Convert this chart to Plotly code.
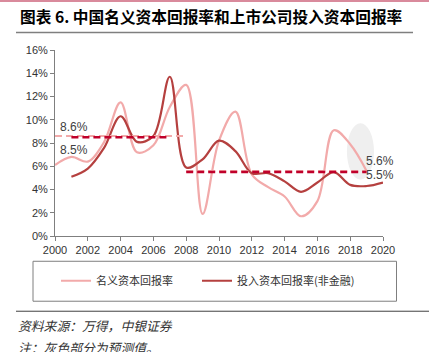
import plotly.graph_objects as go

# ---- data ----
nominal_years = list(range(2000, 2020))
nominal_roc = [6.1, 6.8, 6.4, 8.1, 11.5, 7.2, 7.8, 11.1, 13.0, 1.9,
               8.2, 10.7, 5.3, 4.2, 3.4, 1.7, 3.0, 9.1, 7.9, 5.6]
roic_years = list(range(2001, 2021))
roic = [5.1, 5.8, 7.6, 10.3, 8.1, 8.6, 13.7, 5.9, 6.6, 8.2,
        7.3, 5.4, 5.4, 4.7, 3.8, 4.6, 5.5, 4.4, 4.3, 4.6]

nominal_avg_x1 = [2000, 2008]
nominal_avg_y1 = [8.6, 8.6]
roic_avg_x1 = [2001, 2007]
roic_avg_y1 = [8.5, 8.5]
nominal_avg_x2 = [2008, 2019]
nominal_avg_y2 = [5.6, 5.6]
roic_avg_x2 = [2008, 2019]
roic_avg_y2 = [5.5, 5.5]

y_ticks = [0, 2, 4, 6, 8, 10, 12, 14, 16]
y_tick_labels = [f"{v}%" for v in y_ticks]
x_ticks = list(range(2000, 2021, 2))

title_text = "图表 6. 中国名义资本回报率和上市公司投入资本回报率"
name_nominal = "名义资本回报率"
name_roic = "投入资本回报率(非金融)"
source_text = "资料来源：万得，中银证券"
note_text = "注：灰色部分为预测值。"

PINK = "#F2AAAA"
DARK = "#B5403F"
DASH_DARK = "#C0002A"
NUM_FONT = "Liberation Sans Narrow, Arial Narrow, Liberation Sans, Arial, sans-serif"
CJK_FONT = "Noto Sans CJK SC, sans-serif"


def px_x(p):
    return (p - 55) / 328.0


def px_y(p):
    return (235.7 - p) / 186.2


fig = go.Figure()

fig.add_trace(go.Scatter(x=nominal_years, y=nominal_roc, mode="lines", name=name_nominal,
                         legend="legend",
                         line=dict(color=PINK, width=2.2, shape="spline", smoothing=1.0)))
fig.add_trace(go.Scatter(x=roic_years, y=roic, mode="lines", name=name_roic,
                         legend="legend2",
                         line=dict(color=DARK, width=2.2, shape="spline", smoothing=1.0)))

for xs, ys, col, w in [(nominal_avg_x1, nominal_avg_y1, PINK, 2),
                       (nominal_avg_x2, nominal_avg_y2, PINK, 2),
                       (roic_avg_x1, roic_avg_y1, DASH_DARK, 2.5),
                       (roic_avg_x2, roic_avg_y2, DASH_DARK, 2.5)]:
    fig.add_trace(go.Scatter(x=xs, y=ys, mode="lines", showlegend=False, hoverinfo="skip",
                             line=dict(color=col, width=w, dash="7px,4px")))

# forecast highlight
fig.add_shape(type="circle", xref="x", yref="y", x0=2017.8, x1=2019.45, y0=4.85, y1=9.7,
              fillcolor="#EFEFEF", line=dict(width=0), layer="below")

for txt, xx, yy in [("8.6%", 2001.15, 9.35), ("8.5%", 2001.15, 7.37),
                    ("5.6%", 2019.8, 6.45), ("5.5%", 2019.8, 5.28)]:
    fig.add_annotation(x=xx, y=yy, xref="x", yref="y", text=txt, showarrow=False,
                       font=dict(family=NUM_FONT, size=12, color="#404040"))

# title and decorations
fig.add_annotation(x=px_x(18), y=px_y(16), xref="paper", yref="paper",
                   text=f"<b>{title_text}</b>",
                   showarrow=False, xanchor="left", yanchor="middle",
                   font=dict(family=CJK_FONT, size=15.7, color="#000000"))

fig.add_shape(type="line", xref="paper", yref="paper", x0=px_x(0), x1=px_x(429),
              y0=px_y(0.5), y1=px_y(0.5), line=dict(color="#D98A9C", width=2))
fig.add_shape(type="line", xref="paper", yref="paper", x0=px_x(16), x1=px_x(413),
              y0=px_y(32), y1=px_y(32), line=dict(color="#7F7F7F", width=1.5))
fig.add_shape(type="rect", xref="paper", yref="paper", x0=px_x(33), x1=px_x(396.5),
              y0=px_y(261), y1=px_y(301), line=dict(color="#7F7F7F", width=1))
fig.add_shape(type="line", xref="paper", yref="paper", x0=px_x(16), x1=px_x(429),
              y0=px_y(311), y1=px_y(311), line=dict(color="#404040", width=1))
fig.add_annotation(x=px_x(16), y=px_y(325), xref="paper", yref="paper", text=source_text,
                   showarrow=False, xanchor="left", yanchor="middle",
                   font=dict(family=CJK_FONT, size=12.8, color="#333333", style="italic"))
fig.add_annotation(x=px_x(16), y=px_y(347), xref="paper", yref="paper", text=note_text,
                   showarrow=False, xanchor="left", yanchor="middle",
                   font=dict(family=CJK_FONT, size=12.8, color="#333333", style="italic"))

legend_common = dict(orientation="h", yanchor="middle", bgcolor="rgba(0,0,0,0)",
                     font=dict(family=CJK_FONT, size=11, color="#333333"))

fig.update_layout(
    width=429, height=352,
    margin=dict(l=55, r=46, t=49.5, b=116.3, pad=0),
    paper_bgcolor="white", plot_bgcolor="white",
    showlegend=True,
    legend=dict(x=px_x(56), y=px_y(280.5), xanchor="left", **legend_common),
    legend2=dict(x=px_x(197), y=px_y(280.5), xanchor="left", **legend_common),
    xaxis=dict(range=[2000, 2020], tickvals=x_ticks, showgrid=False, zeroline=False,
               showline=True, linecolor="#7F7F7F", linewidth=1, ticks="outside",
               ticklen=4, tickcolor="#7F7F7F",
               tickfont=dict(family=NUM_FONT, size=11, color="#333333")),
    yaxis=dict(range=[0, 16], tickvals=y_ticks, ticktext=y_tick_labels, showgrid=False,
               zeroline=False, showline=True, linecolor="#7F7F7F", linewidth=1,
               ticks="outside", ticklen=4, tickcolor="#7F7F7F",
               tickfont=dict(family=NUM_FONT, size=11, color="#333333")),
)

fig.write_html("out.html")
